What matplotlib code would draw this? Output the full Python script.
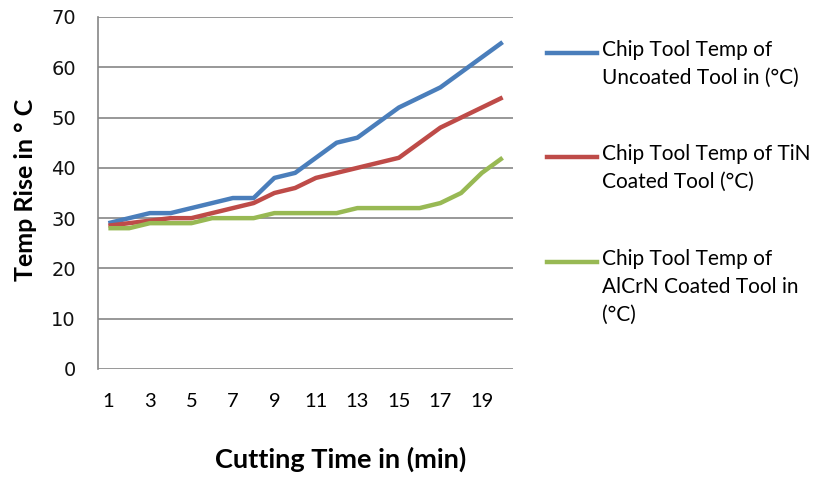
import matplotlib
matplotlib.use("Agg")
import matplotlib.pyplot as plt
from matplotlib.lines import Line2D

# Data
time_labels = [str(i) for i in range(1, 21)]
uncoated = [29, 30, 31, 31, 32, 33, 34, 34, 38, 39, 42, 45, 46, 49, 52, 54, 56, 59, 62, 65]
tin_coated = [28.5, 29, 29.5, 30, 30, 31, 32, 33, 35, 36, 38, 39, 40, 41, 42, 45, 48, 50, 52, 54]
alcrn_coated = [28, 28, 29, 29, 29, 30, 30, 30, 31, 31, 31, 31, 32, 32, 32, 32, 33, 35, 39, 42]
series_names = ["Chip Tool Temp of\nUncoated Tool in (°C)",
                "Chip Tool Temp of TiN\nCoated Tool (°C)",
                "Chip Tool Temp of\nAlCrN Coated Tool in\n(°C)"]
colors = ["#4A7EBB", "#BE4B48", "#98B954"]

W, H = 828, 478
fig = plt.figure(figsize=(W / 100, H / 100), dpi=100)
ax_l, ax_r, ax_t, ax_b = 98, 513, 17, 369
ax = fig.add_axes([ax_l / W, 1 - ax_b / H, (ax_r - ax_l) / W, (ax_b - ax_t) / H])

x = list(range(len(time_labels)))
for vals, c in zip([uncoated, tin_coated, alcrn_coated], colors):
    ax.plot(x, vals, color=c, lw=3.2, solid_capstyle="butt", zorder=3)

ax.set_xlim(-0.5, len(x) - 0.5)
ax.set_ylim(0, 70)
ax.set_yticks(range(0, 71, 10))
ax.set_xticks(x[::2])
ax.set_xticklabels(time_labels[::2], fontfamily="Lato", fontsize=14.5)
for lab in ax.get_yticklabels():
    lab.set_fontfamily("DejaVu Sans")
    lab.set_fontsize(14)
    lab.set_color("#111111")
ax.tick_params(axis="both", length=0)
ax.tick_params(axis="y", pad=16)
ax.tick_params(axis="x", pad=17)
ax.grid(axis="y", color="#868686", lw=1.2)
ax.set_axisbelow(True)
for s in ["top", "right", "bottom"]:
    ax.spines[s].set_visible(False)
ax.spines["left"].set_color("#868686")
ax.spines["left"].set_linewidth(1.2)

aw, ah = ax_r - ax_l, ax_b - ax_t
ax.set_xlabel("Cutting Time in (min)", fontfamily="Lato", fontweight="bold", fontsize=19.5)
ax.xaxis.label.set_va("center")
ax.xaxis.set_label_coords((341 - ax_l) / aw, -(459 - ax_b) / ah)
ax.set_ylabel("Temp Rise in ° C", fontfamily="Lato", fontweight="bold", fontsize=18)
ax.yaxis.label.set_va("center")
ax.yaxis.set_label_coords((26 - ax_l) / aw, (ax_b - 190) / ah)

# Legend (manual, top-aligned entries)
entry_y = [53, 157, 262]
for name, c, yy in zip(series_names, colors, entry_y):
    fy = 1 - yy / H
    fig.add_artist(Line2D([547 / W, 597 / W], [fy, fy], color=c, lw=3.2))
    fig.text(602 / W, 1 - (yy - 13) / H, name, fontfamily="Lato", fontsize=15,
             va="top", ha="left", linespacing=1.5, color="#000000")

fig.savefig("out.png", dpi=100)
